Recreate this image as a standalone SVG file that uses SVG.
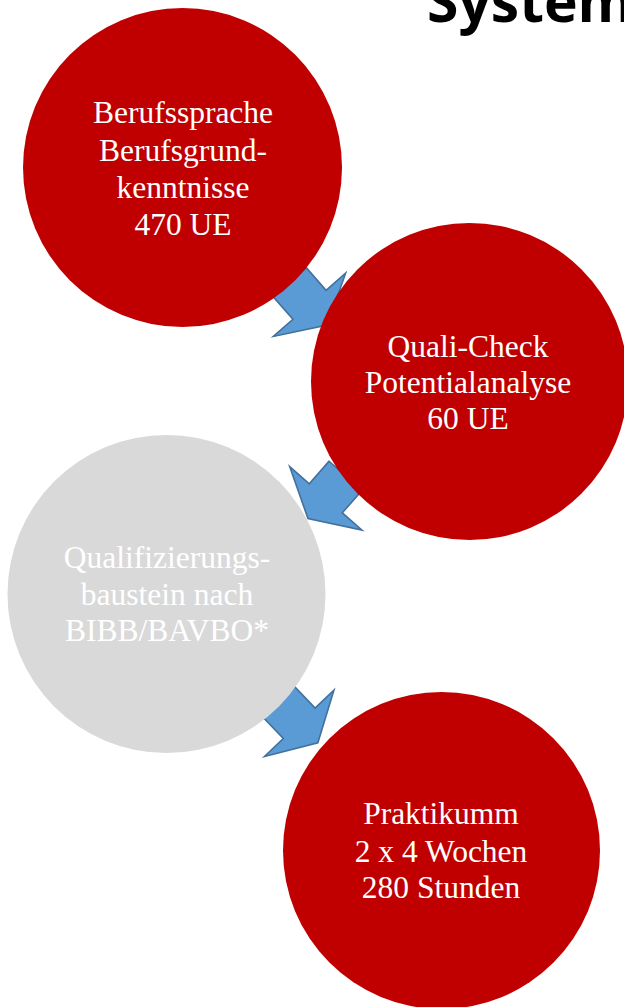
<svg xmlns="http://www.w3.org/2000/svg" width="624" height="1007" viewBox="0 0 624 1007">
<style>
.arrow{fill:#5B9BD5;stroke:#41719C;stroke-width:1.6;stroke-linejoin:miter}
.red{fill:#C00000}
.gray{fill:#D9D9D9}
.lbl{font-family:"Liberation Serif","Times New Roman",serif;font-size:31.5px;fill:#FFFFFF;text-anchor:middle}
.title{font-family:"Open Sans","Liberation Sans",sans-serif;font-weight:700;font-size:57px;fill:#000000}
</style>
<defs>
<path id="blk" d="M -22,-30 L 22,-30 L 22,0 L 48,0 L 0,27 L -48,0 L -22,0 Z"/>
</defs>
<rect x="0" y="0" width="624" height="1007" fill="#FFFFFF"/>
<text class="title" x="427" y="22">System</text>
<g id="connectors">
<use href="#blk" class="arrow" transform="translate(309.5,304.8) rotate(-41.2)"/>
<use href="#blk" class="arrow" transform="translate(325.8,498.3) rotate(41.3)"/>
<use href="#blk" class="arrow" transform="translate(299.2,723.3) rotate(-43.7)"/>
</g>
<g id="node1">
<circle class="red" cx="182.5" cy="167.5" r="159.5"/>
<text class="lbl" x="183" y="123">Berufssprache</text>
<text class="lbl" x="183" y="161">Berufsgrund-</text>
<text class="lbl" x="183" y="198">kenntnisse</text>
<text class="lbl" x="183" y="235">470 UE</text>
</g>
<g id="node2">
<circle class="red" cx="469.5" cy="381.5" r="158.5"/>
<text class="lbl" x="468" y="357">Quali-Check</text>
<text class="lbl" x="468" y="393">Potentialanalyse</text>
<text class="lbl" x="468" y="429">60 UE</text>
</g>
<g id="node3">
<circle class="gray" cx="166.5" cy="594" r="159"/>
<text class="lbl" x="167" y="568">Qualifizierungs-</text>
<text class="lbl" x="167" y="605">baustein nach</text>
<text class="lbl" x="167" y="641">BIBB/BAVBO*</text>
</g>
<g id="node4">
<circle class="red" cx="441.5" cy="850.5" r="158.5"/>
<text class="lbl" x="441" y="824">Praktikumm</text>
<text class="lbl" x="441" y="862">2 x 4 Wochen</text>
<text class="lbl" x="441" y="898">280 Stunden</text>
</g>
</svg>
